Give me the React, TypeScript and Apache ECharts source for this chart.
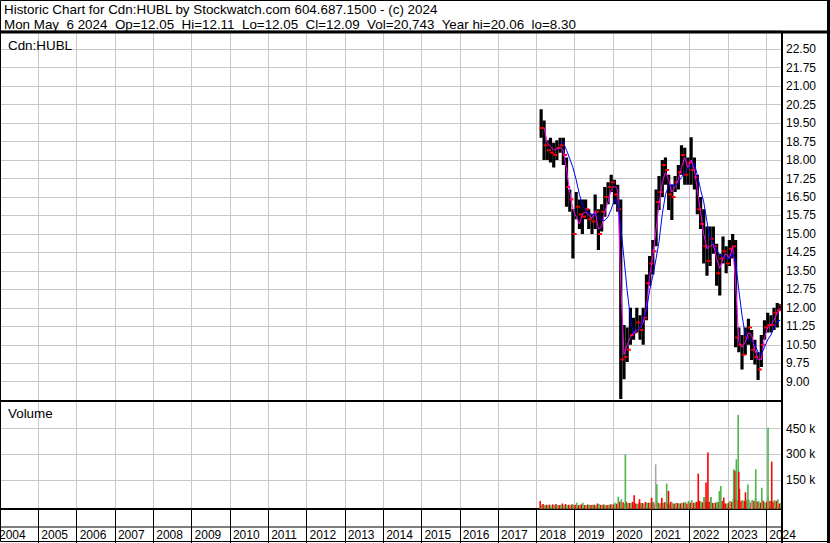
import { useEffect, useRef } from "react";
import * as echarts from "echarts";

// ---------- DATA ----------
const months = [
  "2018-02", "2018-03", "2018-04", "2018-05", "2018-06", "2018-07", "2018-08", "2018-09", "2018-10", "2018-11", "2018-12",
  "2019-01", "2019-02", "2019-03", "2019-04", "2019-05", "2019-06", "2019-07", "2019-08", "2019-09", "2019-10", "2019-11", "2019-12",
  "2020-01", "2020-02", "2020-03", "2020-04", "2020-05", "2020-06", "2020-07", "2020-08", "2020-09", "2020-10", "2020-11", "2020-12",
  "2021-01", "2021-02", "2021-03", "2021-04", "2021-05", "2021-06", "2021-07", "2021-08", "2021-09", "2021-10", "2021-11", "2021-12",
  "2022-01", "2022-02", "2022-03", "2022-04", "2022-05", "2022-06", "2022-07", "2022-08", "2022-09", "2022-10", "2022-11", "2022-12",
  "2023-01", "2023-02", "2023-03", "2023-04", "2023-05", "2023-06", "2023-07", "2023-08", "2023-09", "2023-10", "2023-11", "2023-12",
  "2024-01", "2024-02", "2024-03", "2024-04", "2024-05",
];

const highs = [
  20.06, 19.6, 18.8, 18.9, 18.7, 18.8, 18.9, 18.9, 18.1, 16.8, 16.0,
  16.7, 16.4, 16.4, 16.4, 16.0, 15.8, 16.6, 16.0, 16.2, 16.9, 17.1, 17.4,
  17.2, 17.0, 16.4, 11.3, 11.2, 12.0, 11.6, 12.0, 11.7, 12.0, 13.35, 14.1,
  14.75, 16.8, 17.35, 18.0, 18.1, 17.4, 17.0, 17.35, 17.8, 18.6, 18.5, 18.1,
  18.92, 18.1, 17.4, 16.5, 16.0, 15.3, 15.3, 15.3, 14.6, 14.2, 14.9, 14.5,
  14.75, 15.0, 14.75, 11.2, 10.9, 11.2, 11.56, 11.1, 10.7, 10.2, 10.9, 11.5,
  11.8, 11.7, 12.0, 12.2, 12.15,
];
const lows = [
  18.9, 18.0, 18.0, 17.9, 17.7, 18.0, 18.3, 17.8, 16.1, 15.9, 14.0,
  15.6, 15.2, 15.0, 15.6, 15.2, 15.0, 15.2, 14.35, 15.1, 15.7, 16.2, 16.7,
  16.2, 15.9, 8.3, 9.1, 9.8, 10.5, 10.7, 11.0, 10.7, 10.5, 11.5, 12.9,
  13.35, 14.5, 15.97, 16.5, 17.0, 15.97, 15.57, 16.7, 16.8, 17.4, 17.0, 17.0,
  17.0, 16.8, 15.8, 15.2, 13.8, 13.3, 13.7, 14.2, 12.9, 12.5, 13.8, 13.4,
  13.7, 14.0, 10.4, 10.2, 9.5, 10.1, 10.5, 9.88, 9.7, 9.07, 9.6, 10.7,
  11.0, 11.0, 11.1, 11.2, 11.9,
];
const closes = [
  19.3, 18.6, 18.4, 18.3, 18.2, 18.5, 18.6, 18.2, 16.9, 16.4, 15.0,
  16.1, 15.8, 15.7, 16.0, 15.6, 15.5, 15.9, 15.0, 15.9, 16.5, 16.9, 17.1,
  16.6, 16.0, 9.9, 10.0, 10.3, 10.9, 11.0, 11.4, 11.1, 11.6, 13.0, 13.8,
  14.3, 16.3, 16.7, 17.8, 17.6, 16.6, 16.5, 17.1, 17.5, 18.2, 17.4, 17.9,
  17.6, 17.3, 16.0, 15.4, 14.5, 13.9, 14.8, 14.5, 13.4, 14.0, 14.3, 13.8,
  14.4, 14.5, 10.8, 10.5, 10.1, 10.8, 11.2, 10.3, 10.0, 9.5, 10.5, 11.2,
  11.3, 11.3, 11.8, 11.9, 12.09,
];
// short moving average (magenta)
const maShort = [
  null, 19.3, 18.7, 18.55, 18.4, 18.45, 18.5, 18.4, 17.6, 16.7, 16.0,
  15.7, 15.4, 15.8, 15.9, 15.75, 15.65, 15.9, 15.2, 15.3, 15.9, 16.3, 16.8,
  16.95, 16.8, 13.0, 10.1, 10.5, 10.8, 11.0, 11.1, 11.2, 11.4, 12.0, 13.3,
  14.1, 15.2, 16.2, 17.1, 17.5, 17.2, 16.7, 16.9, 17.2, 17.7, 18.1, 17.7,
  18.0, 17.6, 16.8, 15.9, 15.0, 14.4, 14.5, 14.6, 14.0, 13.6, 14.0, 14.2,
  14.0, 14.5, 13.0, 10.6, 10.4, 10.6, 11.0, 10.9, 10.3, 9.9, 9.9, 10.8,
  11.2, 11.3, 11.5, 11.8, 12.0,
];
// long moving average (blue)
const maLong = [
  null, null, null, null, null, null, 18.75, 18.7, 18.4, 18.05, 17.7,
  17.2, 16.6, 16.2, 15.95, 15.85, 15.8, 15.8, 15.7, 15.55, 15.55, 15.7, 16.0,
  16.4, 16.3, 15.3, 14.0, 12.7, 11.6, 10.9, 11.1, 11.2, 11.55, 11.9, 12.7,
  13.3, 14.0, 14.7, 15.8, 16.6, 16.95, 17.0, 16.95, 17.1, 17.3, 17.5, 17.65,
  17.75, 17.85, 17.4, 16.8, 16.3, 15.5, 14.85, 14.6, 14.35, 14.15, 14.1, 14.0,
  14.0, 14.2, 13.9, 12.7, 11.7, 10.9, 10.7, 10.65, 10.5, 10.2, 10.1, 10.4,
  10.7, 10.9, 11.2, 11.45, 11.5,
];
// typical low-level volume per month (down days / up days)
const volDownBase = [
  30000, 12000, 8000, 9000, 10000, 12000, 7000, 15000, 12000, 8000, 10000,
  7000, 6000, 10000, 6000, 9000, 6000, 8000, 15000, 7000, 9000, 6000, 10000,
  10000, 14000, 25000, 22000, 25000, 18000, 25000, 15000, 20000, 18000, 25000, 20000,
  20000, 15000, 20000, 18000, 22000, 15000, 25000, 14000, 18000, 16000, 20000, 15000,
  20000, 20000, 25000, 30000, 22000, 25000, 25000, 18000, 20000, 22000, 30000, 15000,
  20000, 25000, 40000, 35000, 30000, 30000, 25000, 20000, 30000, 25000, 20000, 30000,
  25000, 30000, 25000, 30000, 15000,
];
const volUpBase = [
  8000, 5000, 6000, 4000, 6000, 5000, 8000, 5000, 6000, 5000, 8000,
  20000, 8000, 20000, 6000, 7000, 8000, 6000, 12000, 8000, 6000, 7000, 10000,
  20000, 55000, 40000, 15000, 18000, 20000, 15000, 12000, 18000, 15000, 20000, 20000,
  25000, 30000, 15000, 20000, 25000, 15000, 20000, 18000, 15000, 20000, 25000, 30000,
  35000, 20000, 25000, 25000, 53000, 20000, 53000, 20000, 25000, 30000, 25000, 15000,
  30000, 40000, 45000, 50000, 35000, 40000, 35000, 35000, 45000, 30000, 40000, 20000,
  55000, 30000, 35000, 40000, 20000,
];
// larger single-day volumes: date, shares, direction (u up, d down, n unchanged)
const volSpikes: [string, number, string][] = [
  ["2020-04-28", 299000, "u"], ["2020-07-21", 63000, "d"], ["2020-09-10", 40000, "d"],
  ["2021-01-03", 48000, "d"], ["2021-02-11", 243000, "n"], ["2021-02-22", 127000, "u"],
  ["2021-04-10", 48000, "d"], ["2021-05-27", 131000, "u"], ["2021-06-13", 88000, "d"],
  ["2022-03-24", 189000, "d"], ["2022-05-18", 53000, "u"], ["2022-06-06", 137000, "d"],
  ["2022-06-24", 311000, "d"], ["2022-07-23", 53000, "u"], ["2022-10-11", 88000, "u"],
  ["2022-10-25", 117000, "u"], ["2022-11-22", 50000, "d"], ["2023-02-25", 214000, "u"],
  ["2023-03-09", 205000, "d"], ["2023-03-22", 272000, "u"], ["2023-04-09", 530000, "u"],
  ["2023-04-14", 200000, "d"], ["2023-04-20", 100000, "d"], ["2023-06-17", 80000, "d"],
  ["2023-07-10", 125000, "u"], ["2023-08-12", 25000, "n"], ["2023-09-23", 214000, "u"],
  ["2023-11-20", 107000, "u"], ["2024-01-18", 456000, "u"], ["2024-02-22", 259000, "d"],
];
const volTicks = [150000, 300000, 450000];

const TITLE = "Historic Chart for Cdn:HUBL by Stockwatch.com 604.687.1500 - (c) 2024";
const SUBTITLE = "Mon May  6 2024  Op=12.05  Hi=12.11  Lo=12.05  Cl=12.09  Vol=20,743  Year hi=20.06  lo=8.30";
const SYMBOL = "Cdn:HUBL";

// ---------- LAYOUT ----------
const W = 830;
const H = 543;
const YEAR_MS = 365.2425 * 86400000;
const MONTH_MS = YEAR_MS / 12;
const X_MIN = 34 * YEAR_MS; // 2004-01-01
const X_MAX = X_MIN + 20.411 * YEAR_MS;
const PLOT_R = 782;
const FONT = '"Liberation Sans", Arial, sans-serif';
const GRID_C = "#c8c8c8";
const COL_UP = "#4cb64c";
const COL_DN = "#ff0000";
const COL_NC = "#a8a8a8";

const monthTime = (m: string, day: number) => {
  const [y, mo] = m.split("-").map(Number);
  return Date.UTC(y, mo - 1, day);
};
const dayTime = (d: string) => {
  const [y, mo, da] = d.split("-").map(Number);
  return Date.UTC(y, mo - 1, da);
};

export default function App() {
  const ref = useRef<HTMLDivElement>(null);
  useEffect(() => {
    document.body.style.margin = "0";
    if (!ref.current) return;
    const chart = echarts.init(ref.current, undefined, { renderer: "svg" });

    const priceData = months.map((m, i) => [monthTime(m, 15), highs[i], lows[i], closes[i], i > 0 ? closes[i - 1] : closes[i]]);
    const shortData = months.map((m, i) => [monthTime(m, 15), maShort[i]]);
    const longData = months.map((m, i) => [monthTime(m, 15), maLong[i]]);
    const volData: any[] = [];
    months.forEach((m, i) => {
      volData.push({ value: [monthTime(m, 6), volDownBase[i]], itemStyle: { color: COL_DN } });
      volData.push({ value: [monthTime(m, 20), volUpBase[i]], itemStyle: { color: COL_UP } });
    });
    volSpikes.forEach(([d, v, c]) => {
      volData.push({ value: [dayTime(d), v], itemStyle: { color: c === "u" ? COL_UP : c === "d" ? COL_DN : COL_NC } });
    });
    const VOL_MIN = -16900;

    const option: any = {
      animation: false,
      backgroundColor: "#ffffff",
      grid: [
        { left: -12.4, right: W - PLOT_R, top: 30.7, height: 369.5 },
        { left: -12.4, right: W - PLOT_R, top: 402, height: 107 },
      ],
      xAxis: [
        {
          type: "value", gridIndex: 0, min: X_MIN, max: X_MAX, interval: YEAR_MS,
          axisLine: { show: false }, axisTick: { show: false }, axisLabel: { show: false },
          splitLine: { show: true, lineStyle: { color: GRID_C, width: 1 } },
        },
        {
          type: "value", gridIndex: 1, min: X_MIN, max: X_MAX, interval: YEAR_MS,
          axisLine: { show: true, onZero: false, lineStyle: { color: "#000", width: 2 } },
          axisTick: { show: true, length: 34, lineStyle: { color: "#000", width: 1 } },
          axisLabel: {
            show: true, margin: 20, align: "left", padding: [0, 0, 0, 3], color: "#000",
            fontFamily: FONT, fontSize: 12, showMinLabel: false, showMaxLabel: false, hideOverlap: false,
            formatter: (v: number) => String(new Date(v + 86400000).getUTCFullYear()),
          },
          splitLine: { show: true, lineStyle: { color: GRID_C, width: 1 } },
        },
      ],
      yAxis: [
        {
          type: "value", gridIndex: 0, position: "right", min: 8.25, max: 23.25, interval: 0.75,
          axisLine: { show: false }, axisTick: { show: false },
          axisLabel: {
            show: true, margin: 4, color: "#000", fontFamily: FONT, fontSize: 12,
            showMinLabel: false, showMaxLabel: false, formatter: (v: number) => v.toFixed(2),
          },
          splitLine: { show: true, lineStyle: { color: GRID_C, width: 1 } },
        },
        {
          type: "value", gridIndex: 1, position: "right", min: VOL_MIN, max: 605000,
          axisLine: { show: false },
          axisTick: { show: false, customValues: volTicks },
          axisLabel: {
            show: true, margin: 4, color: "#000", fontFamily: FONT, fontSize: 12, customValues: volTicks,
            formatter: (v: number) => `${Math.round(v / 1000)} k`,
          },
          splitLine: { show: true, lineStyle: { color: GRID_C, width: 1 } },
        },
      ],
      series: [
        {
          type: "custom", xAxisIndex: 0, yAxisIndex: 0, clip: true, data: priceData,
          renderItem: (_p: any, api: any) => {
            const t = api.value(0);
            const top = api.coord([t, api.value(1)]);
            const bot = api.coord([t, api.value(2)]);
            const cl = api.coord([t, api.value(3)]);
            const op = api.coord([t, api.value(4)]);
            const w = api.size([MONTH_MS, 0])[0];
            return {
              type: "group",
              children: [
                { type: "rect", shape: { x: top[0] - w / 2, y: top[1], width: w, height: Math.max(1, bot[1] - top[1]) }, style: { fill: "#000" } },
                { type: "rect", shape: { x: cl[0] + w / 2 - 2, y: cl[1] - 1, width: 2, height: 2 }, style: { fill: "#ff0000" } },
                { type: "rect", shape: { x: op[0] - w / 2, y: op[1] - 1, width: 2, height: 2 }, style: { fill: "#ff0000" } },
              ],
            };
          },
          z: 2,
        },
        {
          type: "line", xAxisIndex: 0, yAxisIndex: 0, data: shortData, showSymbol: false, connectNulls: false,
          lineStyle: { color: "#ff00ff", width: 1 }, itemStyle: { color: "#ff00ff" }, z: 3,
        },
        {
          type: "line", xAxisIndex: 0, yAxisIndex: 0, data: longData, showSymbol: false, connectNulls: false,
          lineStyle: { color: "#0000ff", width: 1 }, itemStyle: { color: "#0000ff" }, z: 4,
        },
        {
          type: "custom", xAxisIndex: 1, yAxisIndex: 1, clip: true, data: volData,
          renderItem: (_p: any, api: any) => {
            const t = api.value(0);
            const p = api.coord([t, api.value(1)]);
            const b = api.coord([t, VOL_MIN]);
            return {
              type: "rect",
              shape: { x: p[0] - 0.8, y: p[1], width: 1.6, height: b[1] - p[1] },
              style: { fill: api.visual("color") },
            };
          },
        },
      ],
      graphic: [
        { type: "text", x: 4, y: 9.5, z: 100, style: { text: TITLE, font: `13.4px ${FONT}`, fill: "#000", textVerticalAlign: "middle" } },
        { type: "text", x: 4, y: 24.5, z: 100, style: { text: SUBTITLE, font: `13.4px ${FONT}`, fill: "#000", textVerticalAlign: "middle" } },
        { type: "text", x: 8, y: 45, z: 100, style: { text: SYMBOL, font: `13.4px ${FONT}`, fill: "#000", textVerticalAlign: "middle" } },
        { type: "text", x: 8, y: 413, z: 100, style: { text: "Volume", font: `13.4px ${FONT}`, fill: "#000", textVerticalAlign: "middle" } },
        { type: "text", x: -1, y: 535, z: 100, style: { text: "2004", font: `12px ${FONT}`, fill: "#000", textVerticalAlign: "middle" } },
        { type: "rect", z: 100, shape: { x: 0, y: 30.5, width: W, height: 3 }, style: { fill: "#000" } },
        { type: "rect", z: 100, shape: { x: 0, y: 400, width: PLOT_R, height: 2 }, style: { fill: "#000" } },
        { type: "rect", z: 100, shape: { x: 0, y: 526.5, width: PLOT_R, height: 1 }, style: { fill: "#000" } },
        { type: "rect", z: 100, shape: { x: PLOT_R - 1, y: 31, width: 2, height: H - 31 }, style: { fill: "#000" } },
        { type: "rect", z: 100, shape: { x: 0.5, y: 0.5, width: W - 2, height: H - 2 }, style: { fill: "none", stroke: "#000", lineWidth: 1 } },
        { type: "rect", z: 100, shape: { x: W - 3, y: 0, width: 3, height: H }, style: { fill: "#000" } },
      ],
    };
    chart.setOption(option);
    return () => chart.dispose();
  }, []);
  return <div ref={ref} style={{ width: W, height: H }} />;
}
